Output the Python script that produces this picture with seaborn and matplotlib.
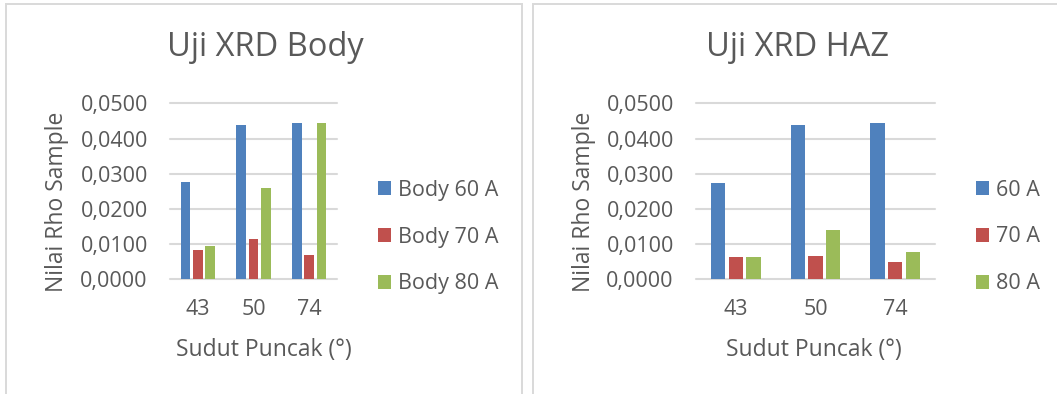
import matplotlib
matplotlib.use("Agg")
import matplotlib.pyplot as plt
from matplotlib.patches import Rectangle
import seaborn as sns
import pandas as pd

# Peak angles (degrees) on the x axis
angles = ["43", "50", "74"]

# Rho values, weld body
body_series = ["Body 60 A", "Body 70 A", "Body 80 A"]
body_60 = [0.0276, 0.0438, 0.0444]
body_70 = [0.0083, 0.0114, 0.0069]
body_80 = [0.0096, 0.0260, 0.0444]

# Rho values, heat affected zone
haz_series = ["60 A", "70 A", "80 A"]
haz_60 = [0.0275, 0.0438, 0.0444]
haz_70 = [0.0063, 0.0066, 0.0050]
haz_80 = [0.0064, 0.0141, 0.0078]

titles = ["Uji XRD Body", "Uji XRD HAZ"]
x_label = "Sudut Puncak (°)"
y_label = "Nilai Rho Sample"
y_ticks = [0.0, 0.01, 0.02, 0.03, 0.04, 0.05]
y_tick_labels = ["0,0000", "0,0100", "0,0200", "0,0300", "0,0400", "0,0500"]

colors = ["#4F81BD", "#C0504D", "#9BBB59"]
text_color = "#595959"
grid_color = "#D9D9D9"

sns.set_theme(style="white")
plt.rcParams["font.family"] = ["Open Sans", "DejaVu Sans"]

W, H = 1057, 394
fig = plt.figure(figsize=(W / 100, H / 100), dpi=100)
fig.patch.set_facecolor("white")


def fx(px):
    return px / W


def fy(py):
    return 1 - py / H


def long_table(series_names, columns):
    rows = []
    for name, vals in zip(series_names, columns):
        for ang, v in zip(angles, vals):
            rows.append({"Sudut": ang, "Rho": v, "Seri": name})
    return pd.DataFrame(rows)


panels = [
    dict(frame=(6, 522), plot=(170, 337), title_x=265, xlab_x=264, ylab_x=57,
         legend_x=378, series=body_series, cols=[body_60, body_70, body_80]),
    dict(frame=(533, 1065), plot=(696, 935), title_x=797, xlab_x=814, ylab_x=584,
         legend_x=976, series=haz_series, cols=[haz_60, haz_70, haz_80]),
]

plot_top, plot_bottom = 103.3, 279.3

for p, title in zip(panels, titles):
    # chart frame
    fx0, fx1 = p["frame"]
    fig.add_artist(Rectangle((fx(fx0), -0.1), fx(fx1 - fx0), fy(4.5) + 0.1,
                             transform=fig.transFigure, fill=False,
                             edgecolor=grid_color, linewidth=1.4))

    x0, x1 = p["plot"]
    ax = fig.add_axes([fx(x0), fy(plot_bottom), fx(x1 - x0),
                       (plot_bottom - plot_top) / H])
    df = long_table(p["series"], p["cols"])
    sns.barplot(data=df, x="Sudut", y="Rho", hue="Seri", order=angles,
                hue_order=p["series"], palette=colors, width=0.665, gap=0.2,
                saturation=1, linewidth=0, ax=ax, zorder=3)

    ax.set_xlim(-0.5, len(angles) - 0.5)
    ax.set_ylim(y_ticks[0], y_ticks[-1])
    ax.set_yticks(y_ticks)
    ax.set_yticklabels(y_tick_labels)
    for t in y_ticks:
        ax.axhline(t, color=grid_color, linewidth=1.5, zorder=1, clip_on=False)
    for s in ax.spines.values():
        s.set_visible(False)
    ax.tick_params(axis="both", length=0, colors=text_color, labelsize=15.5)
    ax.tick_params(axis="y", pad=16)
    ax.tick_params(axis="x", pad=14)

    ax.set_title(title, fontsize=23.5, color=text_color, pad=0, va="center",
                 x=(p["title_x"] - x0) / (x1 - x0),
                 y=(plot_bottom - 47.5) / (plot_bottom - plot_top))
    ax.set_xlabel(x_label, fontsize=16.5, color=text_color)
    ax.xaxis.set_label_coords((p["xlab_x"] - x0) / (x1 - x0),
                              (plot_bottom - 350) / (plot_bottom - plot_top))
    ax.xaxis.label.set_va("center")
    ax.set_ylabel(y_label, fontsize=16.5, color=text_color)
    ax.yaxis.set_label_coords((p["ylab_x"] - x0) / (x1 - x0),
                              (plot_bottom - 202) / (plot_bottom - plot_top))
    ax.yaxis.label.set_va("center")

    handles, labels = ax.get_legend_handles_labels()
    leg = ax.legend(handles, labels, loc="center left",
                    bbox_to_anchor=(fx(p["legend_x"]), fy(237)),
                    bbox_transform=fig.transFigure, frameon=False,
                    fontsize=15.5, handlelength=0.62, handleheight=0.62,
                    handletextpad=0.3, labelspacing=1.2, borderpad=0,
                    borderaxespad=0)
    for txt in leg.get_texts():
        txt.set_color(text_color)

fig.savefig("out.png", dpi=100, facecolor="white")
